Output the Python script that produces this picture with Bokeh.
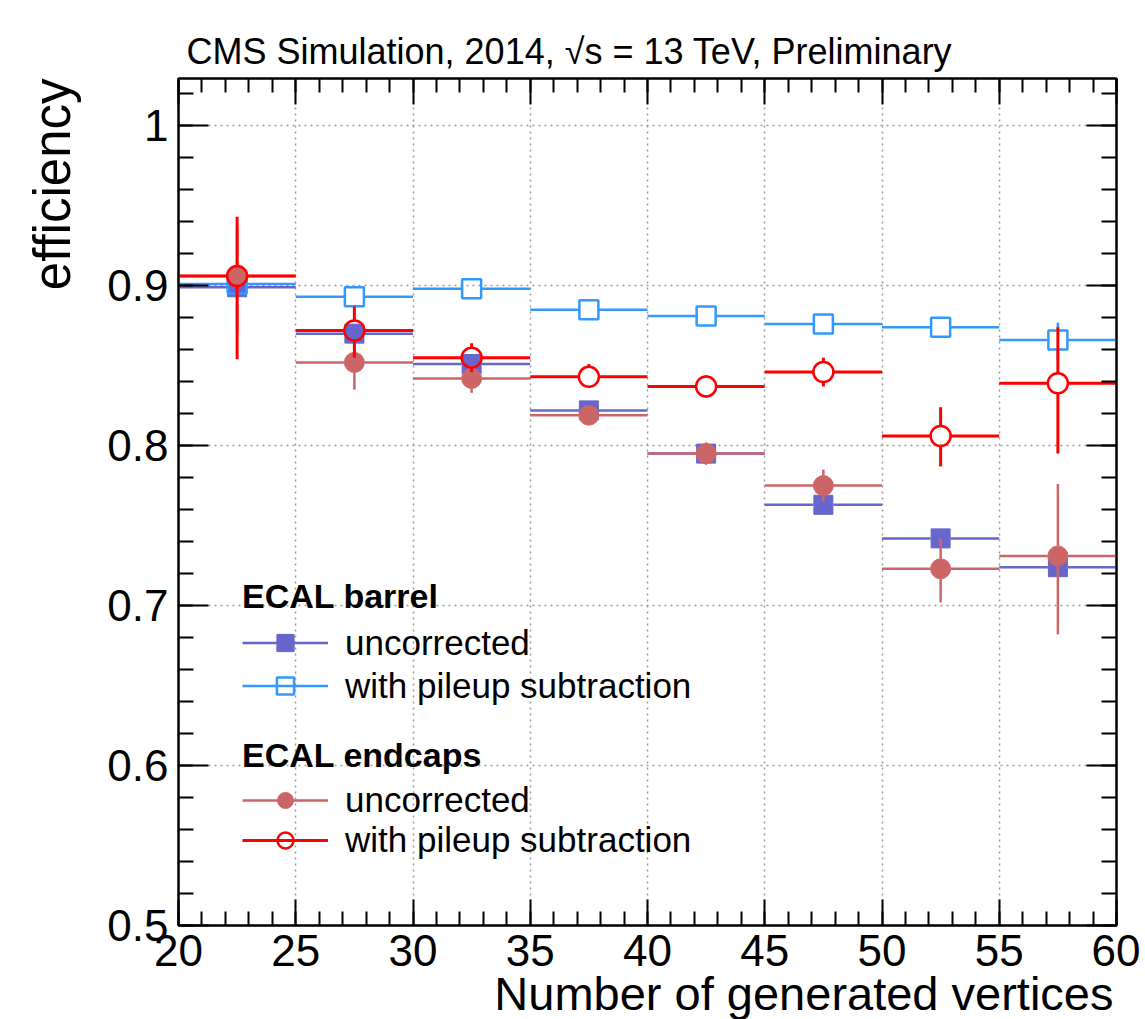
import numpy as np
from bokeh.plotting import figure
from bokeh.models import (ColumnDataSource, Range1d, LinearAxis, SingleIntervalTicker,
                          CustomJSTickFormatter, Title, Legend, LegendItem)
from bokeh.embed import file_html
from bokeh.resources import INLINE

# ---------------- data ----------------
bin_edges = [20, 25, 30, 35, 40, 45, 50, 55, 60]

barrel_unc = [0.899, 0.870, 0.851, 0.822, 0.795, 0.763, 0.742, 0.724]
barrel_unc_elo = [0.005, 0.004, 0.004, 0.004, 0.004, 0.005, 0.005, 0.006]
barrel_unc_ehi = [0.005, 0.004, 0.004, 0.004, 0.004, 0.005, 0.005, 0.006]

barrel_pu = [0.901, 0.893, 0.898, 0.885, 0.881, 0.876, 0.874, 0.866]
barrel_pu_elo = [0.005, 0.004, 0.004, 0.004, 0.004, 0.004, 0.005, 0.013]
barrel_pu_ehi = [0.005, 0.004, 0.004, 0.004, 0.004, 0.004, 0.005, 0.011]

endcap_unc = [0.906, 0.852, 0.842, 0.819, 0.795, 0.775, 0.723, 0.731]
endcap_unc_elo = [0.035, 0.017, 0.009, 0.006, 0.007, 0.010, 0.021, 0.049]
endcap_unc_ehi = [0.030, 0.014, 0.008, 0.006, 0.007, 0.010, 0.019, 0.045]

endcap_pu = [0.906, 0.872, 0.855, 0.843, 0.837, 0.846, 0.806, 0.839]
endcap_pu_elo = [0.052, 0.017, 0.009, 0.007, 0.007, 0.009, 0.019, 0.044]
endcap_pu_ehi = [0.037, 0.015, 0.009, 0.008, 0.007, 0.009, 0.018, 0.035]

title_text = "CMS Simulation, 2014, \u221as = 13 TeV, Preliminary"
x_title = "Number of generated vertices"
y_title = "efficiency"
legend_groups = ["ECAL barrel", "ECAL endcaps"]
legend_labels = ["uncorrected", "with pileup subtraction"]

# ---------------- layout ----------------
FONT = "Liberation Sans"
W, H = 1140, 1019
ML, MT, MR, MB = 178, 78, 24, 92
FW, FH = W - ML - MR, H - MT - MB
XMIN, XMAX = 20, 60
YMIN, YMAX = 0.5, 1.0295

p = figure(width=W, height=H, x_range=Range1d(XMIN, XMAX), y_range=Range1d(YMIN, YMAX),
           output_backend="svg", toolbar_location=None,
           min_border_left=ML, min_border_top=MT, min_border_right=MR, min_border_bottom=MB)
p.background_fill_color = "white"
p.border_fill_color = "white"
p.outline_line_color = "black"
p.outline_line_width = 2

xt = SingleIntervalTicker(interval=5, num_minor_ticks=5)
yt = SingleIntervalTicker(interval=0.1, num_minor_ticks=5)
yfmt = CustomJSTickFormatter(code="return String(Math.round(tick*10)/10)")
empty = CustomJSTickFormatter(code="return ''")


def style_axis(ax, ticker, tin, tmin, labels, fmt=None, standoff=10):
    ax.ticker = ticker
    ax.axis_line_width = 2
    ax.axis_line_color = "black"
    ax.major_tick_in = tin
    ax.major_tick_out = 0
    ax.minor_tick_in = tmin
    ax.minor_tick_out = 0
    ax.major_tick_line_width = 2
    ax.minor_tick_line_width = 2
    ax.major_tick_line_color = "black"
    ax.minor_tick_line_color = "black"
    if labels:
        ax.major_label_text_font = FONT
        ax.major_label_text_font_size = "44px"
        ax.major_label_text_color = "black"
        ax.major_label_standoff = standoff
        if fmt is not None:
            ax.formatter = fmt
    else:
        ax.formatter = empty
        ax.major_label_standoff = 0
        ax.major_label_text_font_size = "1px"


style_axis(p.xaxis[0], xt, 26, 14, True, standoff=9)
style_axis(p.yaxis[0], yt, 30, 15, True, fmt=yfmt, standoff=10)
right = LinearAxis()
style_axis(right, yt, 30, 15, False)
p.add_layout(right, "right")
top = LinearAxis()
style_axis(top, xt, 26, 14, False)
p.add_layout(top, "above")

for g, t in ((p.xgrid[0], xt), (p.ygrid[0], yt)):
    g.ticker = t
    g.grid_line_color = "#9a9a9a"
    g.grid_line_dash = "2 4"
    g.grid_line_width = 1.5

# ---------------- series ----------------
lo = np.array(bin_edges[:-1], dtype=float)
hi = np.array(bin_edges[1:], dtype=float)
xc = (lo + hi) / 2.0
GAP = 10.0
gx = GAP / (FW / (XMAX - XMIN))
gy = GAP / (FH / (YMAX - YMIN))


def series(y, elo, ehi, color, marker, filled, lw, elw, size):
    y = np.array(y)
    elo = np.maximum(np.array(elo), gy)
    ehi = np.maximum(np.array(ehi), gy)
    hs = ColumnDataSource(dict(x0=np.concatenate([lo, xc + gx]),
                               x1=np.concatenate([xc - gx, hi]),
                               y=np.concatenate([y, y])))
    hr = p.segment(x0="x0", y0="y", x1="x1", y1="y", source=hs,
                   line_color=color, line_width=lw)
    vs = ColumnDataSource(dict(x=np.concatenate([xc, xc]),
                               y0=np.concatenate([y + gy, y - gy]),
                               y1=np.concatenate([y + ehi, y - elo])))
    p.segment(x0="x", y0="y0", x1="x", y1="y1", source=vs,
              line_color=color, line_width=elw)
    sr = p.scatter(x=xc, y=y, marker=marker, size=size, line_color=color,
                   line_width=2.5 if not filled else 1,
                   fill_color=color if filled else None)
    return hr, sr


r1 = series(barrel_unc, barrel_unc_elo, barrel_unc_ehi, "#6666cc", "square", True, 2.5, 2.5, 19)
r2 = series(barrel_pu, barrel_pu_elo, barrel_pu_ehi, "#3399ff", "square", False, 2.5, 2.5, 19)
r3 = series(endcap_unc, endcap_unc_elo, endcap_unc_ehi, "#cc6666", "circle", True, 2.5, 2.5, 20)
r4 = series(endcap_pu, endcap_pu_elo, endcap_pu_ehi, "#ff0000", "circle", False, 3, 3, 20)


def make_legend(title, items, loc, gh):
    leg = Legend(items=[LegendItem(label=lab, renderers=list(rs)) for lab, rs in items],
                 title=title, location=loc)
    leg.title_text_font = FONT
    leg.title_text_font_style = "bold"
    leg.title_text_font_size = "34px"
    leg.title_text_color = "black"
    leg.title_standoff = 5
    leg.label_text_font = FONT
    leg.label_text_font_size = "35px"
    leg.label_text_color = "black"
    leg.label_standoff = 17
    leg.glyph_width = 86
    leg.glyph_height = gh
    leg.label_height = gh
    leg.spacing = 0
    leg.padding = 0
    leg.margin = 0
    leg.border_line_alpha = 0
    leg.background_fill_alpha = 0
    return leg


p.add_layout(make_legend(legend_groups[0], [(legend_labels[0], r1), (legend_labels[1], r2)], (64, 218), 43))
p.add_layout(make_legend(legend_groups[1], [(legend_labels[0], r3), (legend_labels[1], r4)], (64, 65), 40))

# ---------------- texts (titles in side panels) ----------------
p.title.text = title_text
p.title.align = "left"
p.title.offset = 8
p.title.standoff = 14
p.title.vertical_align = "bottom"
p.title.text_font = FONT
p.title.text_font_size = "36px"
p.title.text_font_style = "normal"
p.title.text_color = "black"

ytitle = Title(text=y_title, align="right", vertical_align="top", offset=0, standoff=44,
               text_font=FONT, text_font_size="51px", text_font_style="normal", text_color="black")
p.add_layout(ytitle, "left")

xtitle = Title(text=x_title, align="right", vertical_align="top", offset=3, standoff=-4,
               text_font=FONT, text_font_size="47px", text_font_style="normal", text_color="black")
p.add_layout(xtitle, "below")

open("out.html", "w").write(file_html(p, INLINE))
